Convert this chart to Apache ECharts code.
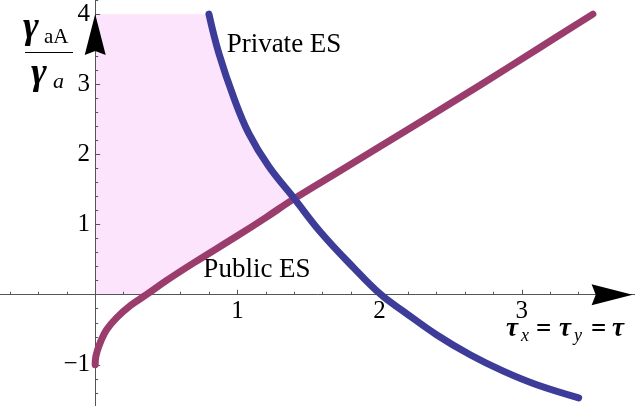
<!DOCTYPE html>
<html>
<head>
<meta charset="utf-8">
<title>Private vs public ES</title>
<script src="https://cdn.jsdelivr.net/npm/echarts@6/dist/echarts.min.js"></script>
<style>
  html, body { margin: 0; padding: 0; background: #fff; }
  #chart { width: 635px; height: 406px; }
</style>
</head>
<body>
<div id="chart"></div>
<script>
  // curves: tau -> gamma_aA / gamma_a
  const publicTau = [0, 0.003, 0.015, 0.04, 0.08, 0.15, 0.25, 0.36, 0.5, 0.69, 1.0, 1.2, 1.4, 1.7, 2.0, 2.3, 2.7, 3.1, 3.5]
  const publicRatio = [-1.0, -0.9, -0.8, -0.66, -0.5, -0.33, -0.15, 0, 0.2, 0.45, 0.84, 1.1, 1.37, 1.74, 2.11, 2.48, 2.98, 3.49, 4.0]
  const privateTau = [0.8, 0.87, 0.98, 1.08, 1.22, 1.4, 1.59, 1.82, 2.01, 2.17, 2.4, 2.64, 2.87, 3.1, 3.4]
  const privateRatio = [4.0, 3.44, 2.78, 2.3, 1.83, 1.37, 0.88, 0.38, 0, -0.24, -0.57, -0.86, -1.09, -1.28, -1.47]
  const xTickLabels = [1, 2, 3]
  const yTickLabels = [-1, 1, 2, 3, 4]
  const crossTau = 1.4 // where the two curves meet
  const ratioTop = 4 // top of the plot range

  const colors = ['#9a3d6d', '#3d3d99']
  const serif = '"Liberation Serif", "DejaVu Serif", serif'

  const pairs = (xs, ys) => xs.map((x, i) => [x, ys[i]])

  // shaded region: left of private curve, above public curve and above zero
  function regionPoints () {
    const pts = [[0, 0], [0, ratioTop]]
    privateTau.forEach((t, i) => {
      if (t <= crossTau) pts.push([t, privateRatio[i]])
    })
    for (let i = publicTau.length - 1; i >= 0; i--) {
      if (publicTau[i] <= crossTau && publicRatio[i] >= 0) pts.push([publicTau[i], publicRatio[i]])
    }
    return pts
  }

  function tickText (list, v) {
    const n = Math.round(Number(v) * 1000) / 1000
    if (!list.includes(n)) return ''
    return n < 0 ? '\u2212' + Math.abs(n) : String(n)
  }

  function txt (x, y, text, font, align) {
    return {
      type: 'text',
      x: x,
      y: y,
      silent: true,
      style: { text: text, font: font, fill: '#000', textAlign: align || 'left', textVerticalAlign: 'middle' }
    }
  }

  const axisLineStyle = { color: '#555', width: 1 }
  const tickLabel = { color: '#000', fontFamily: serif, fontSize: 25 }
  const hidden = { show: false }

  const option = {
    animation: false,
    grid: [
      // plot area (reaches past the canvas so that integer ticks line up)
      { left: -47, right: -29, top: -56, bottom: -29, outerBoundsMode: 'none' },
      // strip whose bottom edge is the tau axis, for x tick labels
      { left: -47, right: -29, top: 0, bottom: 111, outerBoundsMode: 'none' },
      // strip whose left edge is the ratio axis, for y tick labels
      { left: 95, right: 0, top: -56, bottom: -29, outerBoundsMode: 'none' }
    ],
    xAxis: [
      {
        type: 'value',
        min: -1,
        max: 4,
        interval: 1,
        splitLine: hidden,
        axisLine: { onZero: true, lineStyle: axisLineStyle },
        axisTick: { inside: true, length: 5, lineStyle: axisLineStyle },
        minorTick: { show: true, splitNumber: 5, length: 3, lineStyle: axisLineStyle },
        axisLabel: hidden
      },
      {
        gridIndex: 1,
        type: 'value',
        min: -1,
        max: 4,
        interval: 1,
        splitLine: hidden,
        axisLine: hidden,
        axisTick: hidden,
        axisLabel: Object.assign({ margin: 4, formatter: v => tickText(xTickLabels, v) }, tickLabel)
      },
      { gridIndex: 2, type: 'value', show: false }
    ],
    yAxis: [
      {
        type: 'value',
        min: -2,
        max: 5,
        interval: 1,
        splitLine: hidden,
        axisLine: { onZero: true, lineStyle: axisLineStyle },
        axisTick: { inside: true, length: 5, lineStyle: axisLineStyle },
        minorTick: { show: true, splitNumber: 5, length: 3, lineStyle: axisLineStyle },
        axisLabel: hidden
      },
      { gridIndex: 1, type: 'value', show: false },
      {
        gridIndex: 2,
        type: 'value',
        min: -2,
        max: 5,
        interval: 1,
        splitLine: hidden,
        axisLine: hidden,
        axisTick: hidden,
        axisLabel: Object.assign({ margin: 5, formatter: v => tickText(yTickLabels, v) }, tickLabel)
      }
    ],
    series: [
      {
        type: 'custom',
        z: -1,
        silent: true,
        data: [[0, 0]],
        renderItem: (params, api) => ({
          type: 'polygon',
          shape: { points: regionPoints().map(p => api.coord(p)) },
          style: { fill: '#fce4fc' }
        })
      },
      {
        name: 'Public ES',
        type: 'line',
        data: pairs(publicTau, publicRatio),
        showSymbol: false,
        smooth: 0.4,
        lineStyle: { color: colors[0], width: 7, cap: 'round' }
      },
      {
        name: 'Private ES',
        type: 'line',
        data: pairs(privateTau, privateRatio),
        showSymbol: false,
        smooth: 0.4,
        lineStyle: { color: colors[1], width: 7, cap: 'round' }
      },
      {
        // axis arrow heads
        type: 'scatter',
        silent: true,
        z: 5,
        data: [
          { value: [3.635, 0], symbol: 'path://M0,0L40,10L0,20L4,10Z', symbolSize: [41, 21] },
          { value: [0, 3.71], symbol: 'path://M10,0L20,40L10,36L0,40Z', symbolSize: [21, 41] }
        ],
        itemStyle: { color: '#000', opacity: 1 }
      }
    ],
    graphic: [
      txt(284, 45, 'Private ES', '27px ' + serif, 'center'),
      txt(257, 270, 'Public ES', '27px ' + serif, 'center'),
      // x axis name
      txt(506, 329, 'τ', 'italic bold 27px ' + serif),
      txt(521, 336, 'x', 'italic 18px ' + serif),
      txt(536, 330, '=', 'bold 27px ' + serif),
      txt(559, 329, 'τ', 'italic bold 27px ' + serif),
      txt(574, 336, 'y', 'italic 18px ' + serif),
      txt(591, 330, '=', 'bold 27px ' + serif),
      txt(612, 329, 'τ', 'italic bold 27px ' + serif),
      // y axis name as a fraction
      txt(23, 28, 'γ', 'italic bold 38px ' + serif),
      txt(44, 37, 'aA', '21px ' + serif),
      {
        type: 'line',
        silent: true,
        shape: { x1: 25, y1: 52.5, x2: 73, y2: 52.5 },
        style: { stroke: '#000', lineWidth: 1.2 }
      },
      txt(31, 74, 'γ', 'italic bold 38px ' + serif),
      txt(53, 82, 'a', 'italic 22px ' + serif)
    ]
  }

  const chart = echarts.init(document.getElementById('chart'))
  chart.setOption(option)
</script>
</body>
</html>
